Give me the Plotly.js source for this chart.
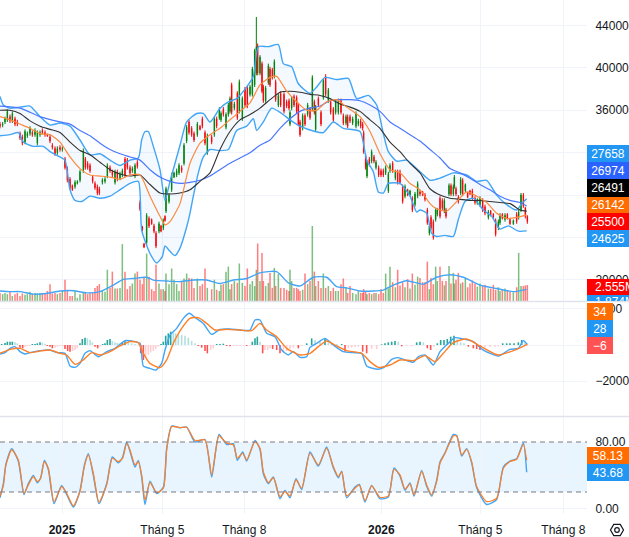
<!DOCTYPE html>
<html><head><meta charset="utf-8">
<script src="https://cdn.plot.ly/plotly-3.0.1.min.js"></script>
<style>html,body{margin:0;padding:0;background:#fff;overflow:hidden}</style></head>
<body><div id="chart" style="width:629px;height:537px"></div>
<script>
const session=[0,8,15,22,30,37,45,52,60,67,75,82,90,97,105,112,120,127,135,142,150,157,165,172,180,187,195,202,210,217,225,232,240,250,256,263,270,278,285,292,298,307,315,322,330,337,345,352,360,367,375,382,390,397,405,412,420,427,432,440,447,455,462,468,477,483,490,495,498,507,515,522,530,537,545,552,560,567,575,582,592,600,607,615,622,635,643,650,658,663,670,678,685,690,695,703,712,718,727,735,742,750,757,764,769,773,780,786,790,797,805,810,817,823,827,835,842,852,860,867,870,875,882,890,895,900,908,915,923,930,937,943,947,955,963,970,977,985,992,1000,1007,1015,1023,1030,1038,1043,1050,1058,1068,1075,1082,1088,1091,1097,1101,1108,1115,1122,1128,1136,1143,1150,1157,1165,1170,1178,1186,1193,1200,1208,1215,1223,1230,1237,1245,1253,1260,1268,1275,1282,1288,1293,1300,1307,1312,1320,1327,1333,1338,1347,1353,1360,1363,1368,1375,1382,1388,1396,1403,1410,1417,1425,1432,1440,1448,1455,1465,1472,1480,1487,1495,1500,1507,1515,1522,1530,1540,1550,1556,1563,1570,1576,1582];
const high=[34900,34900,35400,36100,35600,35900,35400,35100,34000,33700,34200,34000,34500,34100,34300,34100,34100,34300,34100,33800,33700,32900,32600,32600,32700,32600,31600,30700,29700,29000,29400,29400,30400,32400,31600,31200,31000,29900,29300,29000,28800,29600,29700,31000,30800,30400,30400,30400,30200,30500,31600,31500,30800,30700,31000,31300,27500,25100,23500,26300,26000,25800,25300,24600,25500,25200,25800,26100,28800,28200,30100,30200,30500,31000,30800,32900,34600,35100,34500,34000,34900,34600,35400,34100,33800,33700,35400,35400,36300,35900,36300,35800,36700,37300,38600,36800,37800,38900,37300,38200,38300,38400,40100,41800,44800,42300,41200,40600,38400,38300,40400,40100,40000,40800,38900,37600,37800,37700,37000,37100,36000,37300,37500,37400,36700,35100,35700,35700,36700,36300,39300,37000,36500,37300,36000,39000,39400,38100,37000,36300,37000,37100,37100,35700,35600,35600,35600,35400,35900,35200,35200,34900,34100,31900,31300,31600,32300,31800,31300,30800,30500,30500,30800,30200,31000,31200,30400,30400,30400,29000,29000,28600,28500,27900,28300,29300,28500,28400,28200,26800,25300,26100,25700,26800,26800,27900,27700,27700,26800,29100,29100,29000,29900,28800,28000,29700,29600,29100,28300,28500,28600,27900,27700,27900,27700,27100,26600,26600,26300,25800,25700,26300,26300,26300,26300,25800,25700,26400,26600,28200,28200,26900,26100];
const low=[34300,34400,34700,34900,34800,34800,34500,34500,33200,32700,32800,33400,33600,33500,33500,32700,33500,33700,33500,33500,32900,32300,31700,31800,32100,32100,30400,29200,28500,28400,28600,29000,29200,30100,30400,30400,30100,29100,28500,28000,28000,29000,29100,29600,30100,29700,29000,29300,29400,29700,29700,30400,29900,30100,29600,30500,26500,24600,23000,23300,24900,25200,24400,23000,24400,24500,24700,25500,26300,27200,28300,29600,29700,29900,30100,30800,32900,33700,33500,33000,33500,34100,34300,32700,31800,32800,33500,34300,35100,34900,35400,34200,35400,35700,35600,36000,35100,35700,35000,36300,36200,37300,37300,38200,39300,39300,39300,37600,36700,36700,38400,38200,38900,39000,36800,36300,36300,35700,36200,36000,34500,36000,36300,35700,34500,33500,34100,34500,35400,35100,35900,35600,34000,36300,34500,37000,37300,36700,35600,34900,35600,35600,35600,34600,34600,34300,34800,34600,34300,34500,34300,34100,31900,30400,29600,30700,31000,31000,30400,29700,29700,29700,29900,28200,30100,30100,29400,29000,29000,27200,27700,27900,27900,26400,26900,27700,27900,27900,27400,25200,24200,24700,23800,25500,26000,25800,26600,26300,25800,27900,27900,27900,28600,27900,27200,28000,27900,28300,27700,28000,27500,27100,27100,26900,26400,26100,25700,26000,25800,24100,24700,25200,25700,25500,25700,25200,25200,25300,25700,26400,26800,25800,25300];
const open=[34700,34600,34900,35100,35400,35000,35200,34900,33800,33500,33000,33600,33800,33900,33700,32900,33700,34100,33900,33700,33500,32700,32400,32000,32500,32300,31400,30500,29500,28900,28800,29100,29400,30300,31400,31000,30800,29700,29100,28800,28600,29200,29300,29800,30600,30200,29200,30200,29600,29900,31400,31300,30600,30300,29800,31100,27300,25000,23400,23500,25800,25700,25100,24400,24600,25100,24900,26000,26500,27400,28500,29700,29900,30100,30600,31000,33100,34900,34300,33800,33700,34500,35200,33900,32000,33500,33700,35200,35300,35100,36100,34400,35600,35900,38400,36200,37600,35900,35200,38000,38100,37500,37500,38400,39500,42100,39500,40400,38200,36900,38600,39900,39800,39200,38700,36500,37600,37500,36800,36900,34700,36200,37300,37200,36500,34900,34300,35500,35600,36100,36100,36800,34200,37100,35800,37200,39200,36900,36800,36100,35800,35800,36900,35500,34800,35400,35400,34800,34500,34700,35000,34700,33900,31700,29800,31400,31200,31600,30600,30600,30300,30300,30100,28400,30300,31000,29600,30200,30200,28800,27900,28500,28000,27700,27100,27900,28300,28300,28000,26600,24400,25900,25500,25700,26200,27700,27500,26500,26600,28100,28900,28100,28800,28600,27800,28200,29400,28400,28200,28400,28400,27700,27200,27100,27500,26900,25900,26500,26200,25600,24900,25400,26200,25700,26200,25700,25300,26200,25900,26600,28000,26800,26000];
const close=[34500,34700,35200,35900,35000,35700,34700,34700,33400,32900,34000,33800,34300,33700,34100,33900,33900,33900,33700,33600,33100,32500,31900,32400,32300,32400,30600,29400,28700,28500,29200,29300,30200,32200,30600,30600,30300,29300,28700,28200,28200,29400,29500,30800,30300,29900,30200,29500,30000,30300,29900,30600,30100,30500,30800,30700,26700,24700,23100,26100,25100,25300,24600,23200,25300,24600,25600,25600,28600,28000,29900,30100,30300,30800,30300,32700,34400,33900,33700,33200,34700,34200,34500,32900,33600,33000,35200,34500,36100,35700,35600,35600,36500,37100,35800,36600,35300,38700,37100,36500,36400,38200,39900,41600,42000,39500,41000,37800,36900,38100,40200,38400,39100,40600,37000,37400,36500,35900,36400,36200,35800,37100,36500,35900,34700,33700,35500,34700,36500,35300,39100,35800,36300,36500,34700,38800,37500,37900,35800,35100,36800,36900,35800,34800,35400,34500,35000,35200,35700,35000,34500,34300,32100,30600,31100,30900,32100,31200,31100,29900,29900,29900,30600,30000,30800,30300,30200,29200,29200,27400,28800,28000,28400,26600,28100,29100,28100,28000,27600,25400,25100,24900,24000,26600,26600,26000,26800,27500,26000,28900,28100,28800,29700,28100,27400,29500,28100,29000,27800,28100,27700,27300,27600,27700,26600,26300,26400,26100,25900,24300,25500,26100,25800,26100,25800,25300,25600,25500,26400,28000,27000,26000,25500];
const volumeM=[1.3,1.1,1.3,1.1,1.6,0.8,1.1,1.3,0.8,1.2,1,1.1,1.5,1.1,1.3,1.2,1.3,1.3,1.3,1.6,2.7,1.2,1.3,1.1,1.3,1.6,3.4,1.6,0.8,0.8,1.6,0.5,1.1,1.3,1.3,1.1,1.3,1.3,2.1,2.4,2.7,1.6,1.5,5,2.1,4.7,2,2,2.1,9.1,4.7,1.9,2.4,2.8,4.4,4.7,3.4,2.7,3.9,7.6,3.9,1.9,1.6,5.8,2.8,1.9,1.9,1.6,4.4,2.7,5.2,3.4,2.7,1.6,3.2,3.6,4.4,3.7,3.6,2.1,3.6,2.4,2.7,5.2,2.1,1.9,3.4,1.8,1.6,2.6,2.7,4.7,5.5,1.9,2.7,3.2,2.9,6,2.9,2.4,5.2,2.7,3.2,2.4,5,9.2,3.2,7.7,3.2,2.4,2.9,4.5,2.1,5.3,2.4,4.3,2.1,2.1,1.8,1.6,5,3.2,2.1,2.1,1.9,1.6,1.8,4.4,2.7,3.2,12,4.7,2.4,3.2,2.1,4.4,2.1,2.4,1.6,2.1,1.6,1.6,2.7,3.6,2.1,1.3,2.4,1.3,1.1,1.6,1.3,1.3,1.9,1.6,1.1,1.3,1.1,1.3,1.3,1.1,1.9,1.3,4.4,2,5.5,3,2.2,5,2.5,3,2.2,3.5,2,4.4,2.6,3.9,3.7,3,3,6.3,1.9,3.7,2.7,5.5,3.2,5.5,3.2,2.5,3.2,5.6,2.8,4.5,2.8,3.4,4.5,2.8,3,3.6,2.2,2.8,3.3,2.8,2.3,2.8,2.4,2.6,2,2,2.6,1.8,2.2,1.6,1.8,2,1.6,1.5,1.4,2.2,7.7,2.4,2.4,2.5,2.555];

const volMaX=[0,30,60,100,140,180,220,260,300,340,370,400,440,460,500,540,580,620,660,700,740,780,830,865,900,940,980,1010,1040,1080,1120,1150,1180,1220,1270,1310,1350,1390,1440,1490,1540,1580];
const volMa=[1.6,1.5,1.5,1.1,1.2,1.6,1.65,1.3,1.5,2.55,3.45,3.6,3.8,3.35,3.2,3.1,3.35,3.35,2.8,3.35,3.6,4.5,4.7,2.9,2.4,3.8,3.8,2.3,2.1,1.6,1.6,1.75,2.55,3.25,2.7,3.8,4.2,3.8,2.55,2,1.5,1.87];

const ma50X=[0,30,60,90,120,150,180,210,240,270,300,330,360,390,420,450,480,510,540,570,600,630,660,690,720,750,780,810,840,870,900,930,960,990,1020,1050,1080,1110,1140,1170,1200,1230,1260,1290,1320,1350,1380,1410,1440,1470,1500,1530,1560,1580];
const ma50=[36000,36000,35700,35000,34500,34200,33900,33000,32200,31800,31100,30400,30000,29800,29900,29000,28200,28100,28200,28500,29300,30100,32300,34000,35100,35600,36200,37000,37700,37800,37700,37500,37400,37100,36600,36300,35900,35100,34300,33000,32100,31000,30100,28600,28000,27700,27600,27500,27500,27400,27300,27200,26600,26491];
const emaX=[0,30,60,90,120,150,180,210,240,270,300,330,360,390,420,450,480,495,510,540,570,600,630,660,690,720,750,780,810,830,860,890,920,950,980,1010,1040,1080,1110,1140,1170,1200,1230,1260,1290,1310,1340,1370,1400,1430,1460,1490,1520,1550,1580];
const ema=[35400,35100,34700,34300,33800,33700,33000,31600,30500,29900,29800,29700,29500,29900,29900,27900,26000,25200,25500,27200,31000,32900,33700,34300,35100,35900,36700,38400,39100,39200,37800,36800,36000,36000,36800,37000,36300,35400,34000,31900,30400,30100,29100,28500,27200,26700,26500,27400,28300,27900,27300,26300,25800,25900,26142];
const bbUpX=[0,10,30,60,90,120,150,180,210,240,270,300,330,360,390,415,425,435,445,460,480,495,510,540,560,590,610,630,660,685,710,740,760,775,805,835,850,875,895,930,950,975,1010,1045,1070,1105,1130,1150,1165,1190,1220,1260,1290,1320,1360,1400,1430,1460,1490,1520,1550,1565,1580];
const bbUp=[37300,36500,36200,36300,36400,35400,34600,34800,34500,33200,31800,31900,31300,30800,31300,31500,33200,34000,34000,32600,30400,27500,29300,32700,34900,35700,35700,34900,36200,36800,37100,38200,39200,42000,42000,42200,40400,40100,38500,37600,38200,39100,38900,39000,37100,37400,36500,33800,32100,31200,31300,30200,29400,29600,30100,29900,29300,29400,28000,27100,26600,27200,27658];
const bbLowX=[0,30,55,70,100,130,150,180,195,210,225,245,270,300,330,360,390,415,425,450,470,487,495,510,525,540,560,570,580,595,610,630,660,685,710,740,760,770,790,815,845,870,900,945,970,1000,1030,1080,1100,1120,1135,1150,1165,1200,1230,1250,1260,1280,1295,1310,1335,1360,1375,1395,1420,1450,1475,1500,1525,1555,1580];
const bbLow=[33600,33700,33900,33000,32600,32600,32100,31600,31300,28500,27500,27400,27900,27700,27900,28500,29100,29300,24700,22500,21600,22200,23200,22700,22300,23000,25000,26300,27900,30100,31600,32300,32200,32300,34100,34500,35200,34100,34900,36200,35700,35100,34500,34000,33900,34900,34300,34000,31300,30200,28300,28200,29100,29100,27900,26400,26600,26300,24400,24100,24200,24100,25700,27400,27700,26600,26000,24800,25100,24600,24625];
const ma200X=[0,60,120,180,210,240,270,300,330,360,390,420,450,480,510,540,570,600,630,660,690,720,750,780,810,840,870,900,930,960,990,1020,1050,1080,1110,1140,1170,1200,1230,1260,1290,1320,1350,1380,1410,1440,1470,1500,1530,1560,1580];
const ma200=[36400,36200,35400,34900,34700,34100,33600,32900,32300,31900,31600,31300,30400,29700,29300,29100,29200,29400,29800,30400,31000,31500,32000,32700,33200,34300,35200,35900,36200,36400,36900,37000,37000,36900,36500,35900,34900,34300,33700,33100,32300,31500,30500,30100,29600,29000,28500,27900,27500,27300,26974];

const macdX=[0,15,30,45,60,75,90,120,150,170,195,210,225,240,255,270,295,320,345,375,395,420,430,450,468,485,495,510,530,550,568,585,610,635,660,690,720,750,765,780,800,825,845,865,880,900,920,930,950,975,1000,1030,1060,1085,1100,1135,1155,1175,1195,1215,1240,1255,1275,1300,1320,1350,1365,1390,1420,1450,1495,1530,1555,1570,1582];
const macd=[-500,-425,-185,-93,-370,-500,-425,-315,-280,-425,-463,-1165,-1240,-1020,-463,-315,-650,-370,-185,240,222,93,-1165,-1295,-1390,-1020,-280,555,925,1480,1760,1535,1200,590,870,890,830,830,1390,1390,650,460,-280,-555,-370,-685,-650,-130,93,370,0,-370,-425,-463,-1165,-1350,-1200,-795,-700,-830,-960,-650,-555,-1110,-370,185,410,333,185,-280,-610,-240,-185,240,28];
const signalX=[0,30,60,90,120,150,180,200,225,250,275,300,330,360,390,415,430,450,480,500,520,545,570,595,620,645,680,720,755,780,800,830,860,900,930,955,980,1010,1040,1085,1110,1135,1170,1200,1240,1275,1305,1330,1360,1400,1440,1495,1550,1582];
const signal=[-463,-240,-185,-425,-333,-280,-463,-555,-1073,-830,-425,-555,-370,-55,185,130,-463,-1020,-1258,-830,93,925,1480,1518,1200,833,870,830,795,1200,833,460,-185,-555,-463,-93,222,-55,-315,-463,-925,-1240,-1110,-830,-870,-590,-925,-463,130,333,-55,-555,-240,34];
const histX=[5,15,22,30,37,45,52,60,68,75,82,90,97,105,112,120,127,135,142,150,157,165,172,180,188,195,203,210,218,225,232,240,247,255,262,270,277,285,293,300,308,315,322,330,337,345,352,360,367,375,385,395,405,415,422,430,437,445,452,460,467,475,483,490,497,505,512,520,527,535,545,555,565,575,585,595,605,615,622,632,640,650,660,670,680,690,700,710,720,730,740,750,757,765,772,780,788,795,803,810,818,830,840,850,860,870,880,895,905,920,935,945,960,975,985,995,1010,1025,1035,1045,1055,1065,1075,1088,1100,1115,1130,1145,1155,1165,1175,1185,1195,1205,1220,1235,1250,1260,1270,1282,1292,1302,1312,1322,1332,1342,1352,1362,1372,1382,1392,1405,1420,1430,1440,1455,1470,1485,1495,1508,1520,1530,1542,1555,1565,1575,1582];
const hist=[55,111,185,185,185,148,93,-148,-185,-93,-55,-55,55,55,93,148,130,74,-55,-93,-185,-148,-93,-55,-55,-222,-333,-370,-333,-278,-185,93,333,407,370,278,148,-93,-185,-93,55,93,278,333,222,148,111,93,148,222,148,93,55,37,-463,-833,-703,-555,-407,-333,-222,-93,55,185,518,648,740,703,648,592,555,518,407,222,93,-55,-148,-333,-463,-278,-185,55,55,74,-55,-74,-55,-55,-55,-37,-55,-55,185,370,463,185,-463,-278,-278,-185,-222,-278,-463,-407,-333,-222,-148,-185,-55,93,370,278,222,370,148,93,55,55,-370,-185,-148,-111,-93,-370,-463,-222,-222,37,93,148,185,222,185,-74,-55,-55,148,185,148,-185,-278,-93,93,278,278,333,463,518,333,148,93,-93,-185,-222,-278,-148,-111,-93,-74,93,93,93,93,148,278,148,-6];

const stochX=[0,10,18,35,55,72,85,100,112,122,133,145,162,185,200,220,240,253,265,280,297,320,337,355,368,380,390,405,415,425,435,450,470,490,500,515,540,560,585,615,635,657,680,700,712,728,740,765,780,790,805,820,840,855,870,888,905,930,955,980,1000,1015,1025,1040,1065,1078,1095,1115,1140,1165,1182,1200,1215,1230,1242,1265,1280,1295,1310,1320,1335,1360,1370,1385,1400,1415,1430,1460,1490,1510,1530,1550,1570,1580];
const stochD=[15.3,27.3,52.5,70.5,58.5,18.5,28.5,38.5,32.5,36.5,56.5,48.5,8.5,26.5,18.5,3.3,20.5,50.5,64.5,42.5,7.7,28.5,60.5,56.5,60.5,78.5,70.5,52.5,56.5,40.5,10.5,31.3,19.3,24.5,70.5,98.5,97.3,97.7,81.7,82.5,40.5,87.3,78.5,76.5,60.5,66.5,58.5,80.5,72.5,44.5,31.3,37.3,14.5,20.5,15.3,34.5,24.5,66.5,52.5,72.5,50.5,38.5,44.5,15.3,24.5,28.5,9.7,27.3,13.7,15.3,47.3,40.5,23.3,29.7,16.5,44.5,28.5,16.5,32.5,54.5,66.5,87.3,87.3,64.5,71.3,56.5,26.5,8.5,12.5,48.5,56.5,59.3,77.3,58.13];
const stochK=[13,30,54,72,57,17,30,40,31,37,58,47,6,28,17,2,22,52,66,40,6,30,62,55,62,80,69,50,58,38,5,33,18,26,72,99,97,98,80,83,38,89,77,78,58,68,57,82,71,42,30,38,12,22,13,36,23,68,51,74,49,37,45,13,26,29,8,28,12,14,49,39,22,31,15,46,27,15,34,56,67,89,88,63,72,55,25,5,11,50,57,60,79,43.68];

const tickPos=[186,487,733,1144,1441,1690];
const tickText=['<b>2025</b>','Tháng 5','Tháng 8','<b>2026</b>','Tháng 5','Tháng 8'];
const priceTicks=[20000,24000,28000,32000,36000,40000,44000];
const priceTickText=['20000','','','','36000','40000','44000'];
const macdTicks=[-2000,0,2000];
const macdTickText=['−2000','','2000'];
const stochTicks=[0,40,80];
const stochTickText=['0.00','','80.00'];
const priceBadges=[['27658','#2196f3',145,162],['26974','#2962ff',162,179],['26491','#000000',179,197],['26142','#ff6d00',197,213],['25500','#ff0000',213,230],['24625','#2196f3',230,247],['58.13','#ff6d00',447,464],['43.68','#2196f3',464,481]];
const narrowBadges=[['34','#ff6d00',303,320],['28','#2196f3',320,337],['−6','#ff5252',337,354]];

const W=629,H=537,px=v=>v/W,py=v=>1-v/H;
const GRID='#f0f3fa',TXT='#131722',FONT='"Liberation Sans",Arial,sans-serif';
const line=(x,y,color,ya,w)=>({type:'scatter',mode:'lines',x,y,yaxis:ya,xaxis:'x',hoverinfo:'skip',showlegend:false,line:{color,width:w||1.25,shape:'spline',smoothing:0.6}});
const histColor=hist.map((v,i)=>{const p=i?hist[i-1]:0;return v>=0?(v>=p?'#26a69a':'#b2dfdb'):(v<p?'#ff5252':'#ffcdd2');});
const volColor=close.map((c,i)=>c>=open[i]?'rgba(0,128,0,0.5)':'rgba(255,0,0,0.5)');

const lowTrace=line(bbLowX,bbLow,'#42a5f5','y',1.4);
const upTrace=line(bbUpX,bbUp,'#42a5f5','y',1.4);
upTrace.fill='tonexty';upTrace.fillcolor='rgba(33,150,243,0.055)';
const traces=[
 {type:'bar',x:session,y:volumeM,yaxis:'y2',xaxis:'x',width:4.6,marker:{color:volColor,line:{width:0}},hoverinfo:'skip',showlegend:false},
 line(volMaX,volMa,'#42a5f5','y2',1.4),
 {type:'candlestick',x:session,open,high,low,close,yaxis:'y',xaxis:'x',whiskerwidth:0,hoverinfo:'skip',showlegend:false,
  increasing:{line:{color:'#008000',width:1},fillcolor:'#008000'},decreasing:{line:{color:'#ff0000',width:1},fillcolor:'#ff0000'}},
 lowTrace,upTrace,
 line(ma200X,ma200,'#4a78ff','y',1.2),
 line(ma50X,ma50,'#333333','y',1.1),
 line(emaX,ema,'#ff8a3d','y',1.2),
 {type:'bar',x:histX,y:hist,yaxis:'y3',xaxis:'x',width:4.8,marker:{color:histColor,line:{width:0}},hoverinfo:'skip',showlegend:false},
 line(macdX,macd,'#42a5f5','y3',1.4),
 line(signalX,signal,'#ff7f27','y3',1.4),
 line(stochX,stochK,'#42a5f5','y4',1.4),
 line(stochX,stochD,'#ff7f27','y4',1.2)
];

const yBase={side:'right',anchor:'x',gridcolor:GRID,gridwidth:1,zeroline:false,showline:false,ticks:'outside',ticklen:5,tickcolor:'rgba(0,0,0,0)',
 tickfont:{family:FONT,size:12,color:TXT},fixedrange:true};
const badge=(text,color,top,bot,w,extra)=>Object.assign({xref:'paper',yref:'paper',x:px(587),xanchor:'left',y:py((top+bot)/2),yanchor:'middle',
 text,showarrow:false,bgcolor:color,width:w,height:bot-top,borderpad:0,borderwidth:0,align:'center',valign:'middle',
 font:{family:FONT,size:12,color:'#ffffff'}},extra||{});
const annotations=[
 ...priceBadges.map(b=>badge(b[0],b[1],b[2],b[3],42)),
 ...narrowBadges.map(b=>badge(b[0],b[1],b[2],b[3],26)),
 badge('2.555M','#ff0000',279,295,56),
 badge('1.874M','#2196f3',295,301,56,{valign:'top'})
];
const hexR=6.5,hx=617,hy=530;
const hexPath='M '+[0,1,2,3,4,5].map(k=>{const a=Math.PI/3*k;return px(hx+hexR*Math.cos(a))+' '+py(hy+hexR*Math.sin(a));}).join(' L ')+' Z';
const shapes=[
 {type:'rect',xref:'x',yref:'y4',x0:0,x1:1761,y0:20,y1:80,fillcolor:'rgba(33,150,243,0.1)',line:{width:0},layer:'below'},
 {type:'line',xref:'x',yref:'y4',x0:0,x1:1761,y0:80,y1:80,line:{color:'#787b86',width:1,dash:'5px,4px'},layer:'above'},
 {type:'line',xref:'x',yref:'y4',x0:0,x1:1761,y0:20,y1:20,line:{color:'#787b86',width:1,dash:'5px,4px'},layer:'above'},
 {type:'line',xref:'paper',yref:'paper',x0:0,x1:1,y0:py(301.5),y1:py(301.5),line:{color:'#e0e3eb',width:1.5}},
 {type:'line',xref:'paper',yref:'paper',x0:0,x1:1,y0:py(416.5),y1:py(416.5),line:{color:'#e0e3eb',width:1.5}},
 {type:'path',xref:'paper',yref:'paper',path:hexPath,line:{color:TXT,width:1.2}},
 {type:'circle',xref:'paper',yref:'paper',x0:px(hx-2.3),x1:px(hx+2.3),y0:py(hy+2.3),y1:py(hy-2.3),line:{color:TXT,width:1.2}}
];

const layout={width:W,height:H,margin:{l:0,r:0,t:0,b:0,pad:0},paper_bgcolor:'#fff',plot_bgcolor:'#fff',showlegend:false,barmode:'overlay',dragmode:false,hovermode:false,
 xaxis:{domain:[0,px(587)],range:[0,1761],anchor:'y4',tickmode:'array',tickvals:tickPos,ticktext:tickText,gridcolor:GRID,gridwidth:1,zeroline:false,showline:false,
  ticks:'outside',ticklen:5,tickcolor:'rgba(0,0,0,0)',tickfont:{family:FONT,size:12,color:TXT},rangeslider:{visible:false},fixedrange:true},
 yaxis:Object.assign({},yBase,{domain:[py(301),1],range:[18016,46400],tickmode:'array',tickvals:priceTicks,ticktext:priceTickText}),
 yaxis2:{overlaying:'y',side:'left',range:[0,48.16],visible:false,fixedrange:true},
 yaxis3:Object.assign({},yBase,{domain:[py(416),py(303)],range:[-3944,2333],tickmode:'array',tickvals:macdTicks,ticktext:macdTickText}),
 yaxis4:Object.assign({},yBase,{domain:[py(514),py(417)],range:[-6.4,110],tickmode:'array',tickvals:stochTicks,ticktext:stochTickText}),
 annotations,shapes
};
Plotly.newPlot('chart',traces,layout,{displayModeBar:false,staticPlot:true});
</script></body></html>
